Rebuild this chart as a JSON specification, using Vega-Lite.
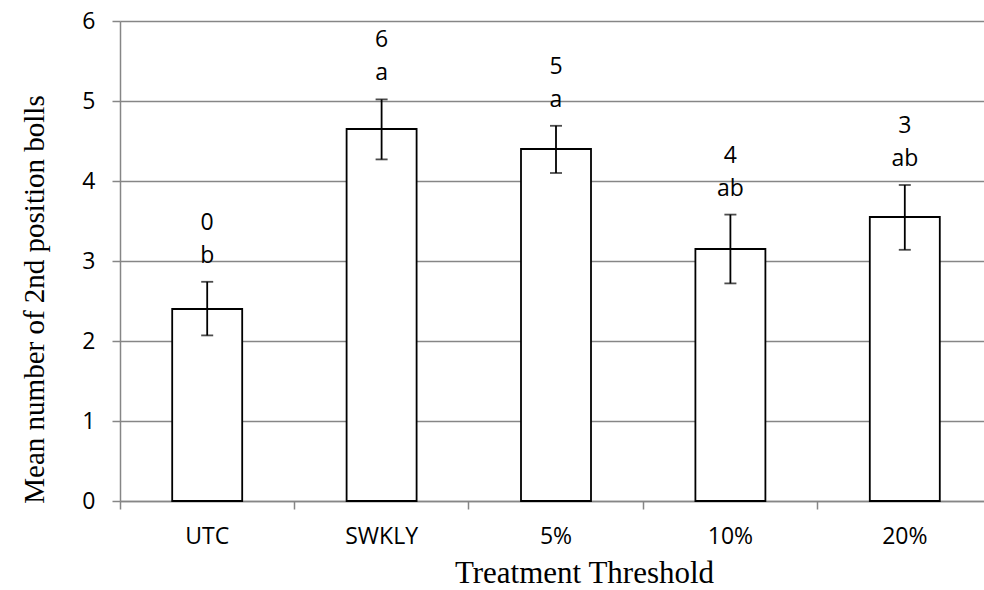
{
  "$schema": "https://vega.github.io/schema/vega-lite/v6.json",
  "width": 864,
  "height": 480,
  "autosize": {"type": "none"},
  "padding": {"left": 120, "top": 21, "right": 0, "bottom": 89},
  "background": "white",
  "config": {"view": {"stroke": null}, "font": "Open Sans"},
  "data": {
    "values": [
      {"treatment": "UTC", "mean": 2.4, "lo": 2.07, "hi": 2.74, "rank": "0", "group": "b"},
      {"treatment": "SWKLY", "mean": 4.65, "lo": 4.27, "hi": 5.02, "rank": "6", "group": "a"},
      {"treatment": "5%", "mean": 4.4, "lo": 4.1, "hi": 4.69, "rank": "5", "group": "a"},
      {"treatment": "10%", "mean": 3.15, "lo": 2.72, "hi": 3.58, "rank": "4", "group": "ab"},
      {"treatment": "20%", "mean": 3.55, "lo": 3.14, "hi": 3.95, "rank": "3", "group": "ab"}
    ]
  },
  "encoding": {
    "x": {
      "field": "treatment",
      "type": "nominal",
      "sort": null,
      "scale": {"range": [0, 872], "paddingInner": 0, "paddingOuter": 0},
      "axis": {
        "title": "Treatment Threshold",
        "labelAngle": 0,
        "bandPosition": 0,
        "tickSize": 8,
        "tickWidth": 1.5,
        "tickColor": "#868686",
        "domainColor": "#868686",
        "domainWidth": 1.5,
        "labelPadding": 34,
        "labelBaseline": "alphabetic",
        "labelFont": "Open Sans",
        "labelFontSize": 23,
        "labelColor": "black",
        "titleFont": "Liberation Serif",
        "titleFontSize": 31,
        "titleFontWeight": "normal",
        "titleColor": "black",
        "titleX": 464,
        "titleY": 81,
        "titleBaseline": "alphabetic",
        "titleAlign": "center"
      }
    }
  },
  "layer": [
    {
      "mark": {"type": "bar", "size": 70, "fill": "white", "stroke": "black", "strokeWidth": 1.8},
      "encoding": {
        "y": {
          "field": "mean",
          "type": "quantitative",
          "scale": {"domain": [0, 6], "nice": false},
          "axis": {
            "title": "Mean number of 2nd position bolls",
            "values": [0, 1, 2, 3, 4, 5, 6],
            "format": "d",
            "grid": true,
            "gridColor": "#868686",
            "gridWidth": 1.5,
            "domainColor": "#868686",
            "domainWidth": 1.5,
            "tickColor": "#868686",
            "tickWidth": 1.5,
            "tickSize": 8,
            "labelPadding": 17,
            "labelFont": "Open Sans",
            "labelFontSize": 23,
            "labelColor": "black",
            "titleFont": "Liberation Serif",
            "titleFontSize": 29,
            "titleFontWeight": "normal",
            "titleColor": "black",
            "titleAngle": -90,
            "titleX": -77,
            "titleY": 278,
            "titleBaseline": "alphabetic",
            "titleAlign": "center"
          }
        }
      }
    },
    {
      "mark": {"type": "rule", "color": "black", "strokeWidth": 1.8},
      "encoding": {
        "y": {"field": "lo", "type": "quantitative"},
        "y2": {"field": "hi"}
      }
    },
    {
      "mark": {"type": "tick", "color": "black", "size": 12, "thickness": 1.8},
      "encoding": {"y": {"field": "lo", "type": "quantitative"}}
    },
    {
      "mark": {"type": "tick", "color": "black", "size": 12, "thickness": 1.8},
      "encoding": {"y": {"field": "hi", "type": "quantitative"}}
    },
    {
      "mark": {"type": "text", "font": "Open Sans", "fontSize": 23, "color": "black", "baseline": "middle", "dy": -26},
      "encoding": {
        "y": {"field": "hi", "type": "quantitative"},
        "text": {"field": "group"}
      }
    },
    {
      "mark": {"type": "text", "font": "Open Sans", "fontSize": 23, "color": "black", "baseline": "middle", "dy": -59},
      "encoding": {
        "y": {"field": "hi", "type": "quantitative"},
        "text": {"field": "rank"}
      }
    }
  ]
}
